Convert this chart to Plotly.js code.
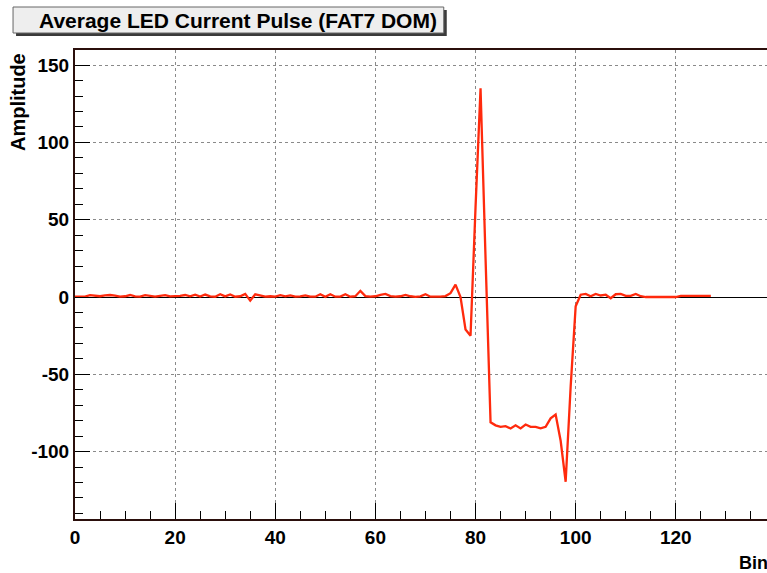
<!DOCTYPE html>
<html><head><meta charset="utf-8">
<script src="https://cdn.plot.ly/plotly-3.0.1.min.js"></script>
<style>
html,body{margin:0;padding:0;overflow:hidden;background:#fff;width:767px;height:573px}
#chart{width:900px;height:573px}
</style>
</head><body><div id="chart"></div>
<script>
// ---- data ----
const bins = [0,1,2,3,4,5,6,7,8,9,10,11,12,13,14,15,16,17,18,19,20,21,22,23,24,25,26,27,28,29,
  30,31,32,33,34,35,36,37,38,39,40,41,42,43,44,45,46,47,48,49,50,51,52,53,54,55,56,57,58,59,
  60,61,62,63,64,65,66,67,68,69,70,71,72,73,74,75,76,77,78,79,80,81,82,83,84,85,86,87,88,89,
  90,91,92,93,94,95,96,97,98,99,100,101,102,103,104,105,106,107,108,109,110,111,112,113,114,
  115,116,117,118,119,120,121,122,123,124,125,126,127];
const amplitude = [
  0.3,0.5,0.3,1.2,0.8,0.5,1.0,1.3,0.9,0.3,
  0.5,1.3,0.4,0.3,1.2,0.6,0.3,0.8,1.2,0.4,
  0.5,0.7,1.3,0.4,1.5,0.3,1.6,0.4,0.2,1.8,
  0.4,1.7,0.2,0.5,2.0,-2.3,1.7,0.8,0.3,0.5,
  0.3,1.2,0.4,1.0,0.3,0.4,1.1,0.3,0.2,1.8,
  0.1,1.8,0.2,0.3,1.8,0.2,0.5,4.0,0.6,0.2,
  0.5,1.4,2.0,0.6,0.3,0.5,1.4,0.5,0.1,0.4,
  1.8,0.2,0.1,0.2,0.6,2.5,8.0,0.0,-21,-25,
  58,135,25,-81,-83,-84,-83.5,-85,-83,-85,
  -82.5,-84,-84,-85,-84,-78.5,-76,-93,-119.5,-58,
  -6,1.5,2.0,0.5,2.0,1.0,1.5,-0.8,1.8,2.0,
  0.8,0.8,2.0,0.5,0.0,0.0,0.0,0.0,0.0,0.0,
  0.0,0.8,0.8,0.8,0.8,0.8,0.8,0.8];
const xTicks = [0,20,40,60,80,100,120];
const yTicks = [-100,-50,0,50,100,150];
const titleText = 'Average LED Current Pulse (FAT7 DOM)';
const yTitle = 'Amplitude';
const xTitle = 'Bin';

// ---- geometry helpers (pixel -> paper) ----
const W = 900, H = 573;
const L = 75, T = 50, PW = 751.5, PH = 469;
const px = v => (v - L) / PW;
const py = v => (T + PH - v) / PH;

const FONT = 'Liberation Sans, Arial, sans-serif';
const tickFont = {family:FONT, size:19, color:'#000', weight:'bold'};
const frameColor = '#2b0f0c';

const trace = {
  x: bins, y: amplitude, type:'scatter', mode:'lines',
  line:{color:'#ff2a0d', width:2.3}, hoverinfo:'x+y'
};

const layout = {
  width: W, height: H,
  margin:{l:L, r:W-L-PW, t:T, b:H-T-PH},
  paper_bgcolor:'#fff', plot_bgcolor:'#fff',
  showlegend:false,
  xaxis:{
    range:[0,150], tickvals:xTicks, ticktext:xTicks.map(String),
    ticks:'inside', ticklen:16, tickwidth:1, tickcolor:'#000',
    minor:{dtick:5, tick0:0, ticks:'inside', ticklen:8, tickcolor:'#000', showgrid:false},
    showgrid:true, gridcolor:'#8a8a8a', griddash:'dot', gridwidth:1,
    zeroline:false, showline:true, linecolor:frameColor, linewidth:2, mirror:true,
    tickfont:tickFont, fixedrange:true
  },
  yaxis:{
    range:[-143.6,159.8], tickvals:yTicks, ticktext:yTicks.map(String),
    ticks:'inside', ticklen:15, tickwidth:1, tickcolor:'#000',
    minor:{dtick:10, tick0:0, ticks:'inside', ticklen:8, tickcolor:'#000', showgrid:false},
    showgrid:true, gridcolor:'#8a8a8a', griddash:'dot', gridwidth:1,
    zeroline:true, zerolinecolor:'#000', zerolinewidth:1,
    showline:true, linecolor:frameColor, linewidth:2, mirror:true,
    tickfont:tickFont, fixedrange:true
  },
  shapes:[
    {type:'rect', xref:'paper', yref:'paper', x0:px(16), x1:px(447), y0:py(10), y1:py(36),
     fillcolor:'#3a3a3a', line:{width:0}, layer:'above'},
    {type:'rect', xref:'paper', yref:'paper', x0:px(13), x1:px(444), y0:py(7), y1:py(33),
     fillcolor:'#eeeeee', line:{color:'#666', width:1}, layer:'above'}
  ],
  annotations:[
    {xref:'paper', yref:'paper', x:px(238.5), y:py(20.5), xanchor:'center', yanchor:'middle',
     text:titleText, showarrow:false,
     font:{family:FONT, size:21, color:'#000', weight:'bold'}},
    {xref:'paper', yref:'paper', x:px(18), y:py(102), xanchor:'center', yanchor:'middle',
     text:yTitle, textangle:-90, showarrow:false,
     font:{family:FONT, size:20, color:'#000', weight:'bold'}},
    {xref:'paper', yref:'paper', x:px(737), y:py(563), xanchor:'left', yanchor:'middle',
     text:xTitle, showarrow:false,
     font:{family:FONT, size:18, color:'#000', weight:'bold'}}
  ]
};

Plotly.newPlot('chart', [trace], layout, {displayModeBar:false, staticPlot:true});
</script>
</body></html>
